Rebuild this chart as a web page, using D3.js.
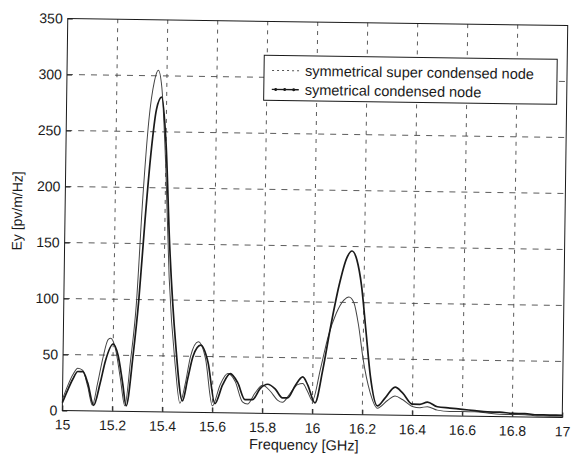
<!DOCTYPE html>
<html>
<head>
<meta charset="utf-8">
<script src="https://cdn.jsdelivr.net/npm/d3@7"></script>
<style>
  body { margin: 0; background: #fff; }
  svg { display: block; font-family: "Liberation Sans", Arial, sans-serif; }
</style>
</head>
<body>
<div id="chart"></div>
<script>
// Values
const xTicks = [15, 15.2, 15.4, 15.6, 15.8, 16, 16.2, 16.4, 16.6, 16.8, 17];
const yTicks = [0, 50, 100, 150, 200, 250, 300, 350];
const seriesNames = ['symmetrical super condensed node', 'symetrical condensed node'];

const superFreq = [15.00,15.02,15.04,15.06,15.08,15.10,15.12,15.14,15.16,15.18,15.19,15.21,15.23,15.25,15.27,15.29,15.31,15.33,15.35,15.365,15.38,15.40,15.42,15.45,15.47,15.49,15.51,15.54,15.57,15.60,15.63,15.66,15.69,15.72,15.74,15.77,15.80,15.83,15.86,15.88,15.91,15.94,15.96,15.98,16.00,16.03,16.06,16.09,16.12,16.14,16.16,16.18,16.20,16.23,16.26,16.30,16.33,16.36,16.40,16.43,16.46,16.50,16.55,16.60,16.65,16.70,16.75,16.80,16.85,16.90,16.95,17.00];
const superVal  = [10,22,32,38,36,22,5,25,48,64,65,55,30,5,45,95,190,260,295,305,290,220,120,40,8,25,50,63,48,6,25,35,28,10,8,18,25,20,12,10,18,26,27,20,12,40,70,90,102,105,100,80,50,20,6,13,17,14,8,7,8,5,4,4,4,3,2,2,2,1,1,1];

const condFreq = [15.00,15.02,15.04,15.06,15.08,15.10,15.125,15.15,15.17,15.20,15.22,15.24,15.255,15.28,15.30,15.32,15.34,15.36,15.38,15.40,15.42,15.45,15.48,15.50,15.52,15.55,15.58,15.61,15.64,15.67,15.70,15.73,15.76,15.79,15.82,15.85,15.88,15.90,15.93,15.96,15.98,16.01,16.04,16.07,16.10,16.13,16.15,16.17,16.19,16.21,16.23,16.26,16.29,16.33,16.36,16.40,16.43,16.46,16.50,16.55,16.60,16.65,16.70,16.75,16.80,16.85,16.90,16.95,17.00];
const condVal  = [7,18,28,35,35,25,5,25,45,60,50,25,5,50,100,170,230,270,281,240,150,60,10,30,50,60,45,8,25,35,27,12,12,22,26,22,14,14,25,33,26,10,40,80,115,140,146,138,115,75,35,8,15,25,20,10,10,12,8,7,6,5,4,4,3,3,2,2,2];

const W = 571, H = 459;
const margin = {left: 65, right: 6, top: 22, bottom: 45};
const plotW = W - margin.left - margin.right;
const plotH = H - margin.top - margin.bottom;
const ink = '#1a1a1a';

const svg = d3.select('#chart').append('svg')
    .attr('width', W)
    .attr('height', H);

svg.append('rect').attr('width', W).attr('height', H).attr('fill', '#fff');

// the scan is slightly tilted
const cx = margin.left + plotW / 2, cy = margin.top + plotH / 2;
const g = svg.append('g')
    .attr('transform', `rotate(0.8, ${cx}, ${cy}) translate(${margin.left},${margin.top})`);

const x = d3.scaleLinear().domain([15, 17]).range([0, plotW]);
const y = d3.scaleLinear().domain([0, 350]).range([plotH, 0]);

// grid
g.append('g').selectAll('line.vg')
    .data(xTicks.slice(1, -1))
    .join('line')
      .attr('x1', d => x(d)).attr('x2', d => x(d))
      .attr('y1', 0).attr('y2', plotH)
      .attr('stroke', '#333').attr('stroke-width', 0.8)
      .attr('stroke-dasharray', '4,5');

g.append('g').selectAll('line.hg')
    .data(yTicks.slice(1, -1))
    .join('line')
      .attr('x1', 0).attr('x2', plotW)
      .attr('y1', d => y(d)).attr('y2', d => y(d))
      .attr('stroke', '#333').attr('stroke-width', 0.8)
      .attr('stroke-dasharray', '6,6');

// axes
const xAxis = g.append('g')
    .attr('transform', `translate(0,${plotH})`)
    .call(d3.axisBottom(x).tickValues(xTicks).tickSize(-5).tickPadding(9)
        .tickFormat(d3.format('')));
const yAxis = g.append('g')
    .call(d3.axisLeft(y).tickValues(yTicks).tickSize(-5).tickPadding(5));

[xAxis, yAxis].forEach(a => {
  a.select('.domain').remove();
  a.selectAll('line').attr('stroke', ink);
  a.selectAll('text')
      .attr('fill', ink)
      .style('font-size', '14px')
      .style('font-family', '"Liberation Sans", Arial, sans-serif');
});

// frame
g.append('rect')
    .attr('width', plotW).attr('height', plotH)
    .attr('fill', 'none').attr('stroke', ink).attr('stroke-width', 1);

// curves
const line = d3.line()
    .x(d => x(d[0]))
    .y(d => y(d[1]))
    .curve(d3.curveMonotoneX);

const superData = superFreq.map((f, i) => [f, superVal[i]]);
const condData = condFreq.map((f, i) => [f, condVal[i]]);

g.append('path')
    .datum(superData)
    .attr('d', line)
    .attr('fill', 'none')
    .attr('stroke', '#444')
    .attr('stroke-width', 1);

g.append('path')
    .datum(condData)
    .attr('d', line)
    .attr('fill', 'none')
    .attr('stroke', ink)
    .attr('stroke-width', 1.7);

// legend
const lg = g.append('g').attr('transform', `translate(${262 - margin.left},${56 - margin.top})`);
lg.append('rect')
    .attr('width', 293).attr('height', 45)
    .attr('fill', '#fff').attr('stroke', ink).attr('stroke-width', 1);

lg.append('line')
    .attr('x1', 8).attr('x2', 35).attr('y1', 15).attr('y2', 15)
    .attr('stroke', '#555').attr('stroke-width', 1).attr('stroke-dasharray', '2,3');
lg.append('line')
    .attr('x1', 8).attr('x2', 35).attr('y1', 34).attr('y2', 34)
    .attr('stroke', ink).attr('stroke-width', 1.3);
lg.selectAll('circle')
    .data([12, 21, 30])
    .join('circle')
      .attr('cx', d => d).attr('cy', 34).attr('r', 1.5)
      .attr('fill', ink);

lg.selectAll('text')
    .data(seriesNames)
    .join('text')
      .attr('x', 41)
      .attr('y', (d, i) => 20 + i * 19)
      .attr('fill', ink)
      .style('font-size', '14.5px')
      .text(d => d);

// axis titles
g.append('text')
    .attr('x', plotW / 2 - 8)
    .attr('y', plotH + 36)
    .attr('text-anchor', 'middle')
    .attr('fill', ink)
    .style('font-size', '14.5px')
    .text('Frequency [GHz]');

g.append('text')
    .attr('transform', `translate(${-43},${plotH / 2 - 3}) rotate(-90)`)
    .attr('text-anchor', 'middle')
    .attr('fill', ink)
    .style('font-size', '14px')
    .text('Ey [pv/m/Hz]');
</script>
</body>
</html>
